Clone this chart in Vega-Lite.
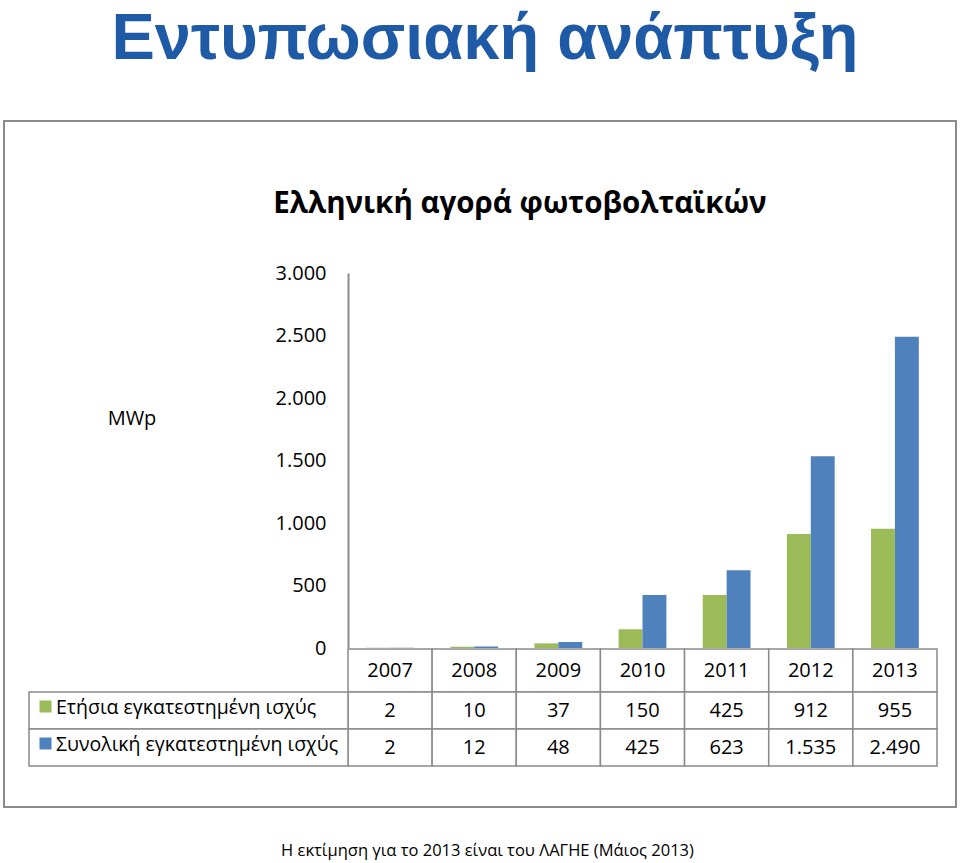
{
  "$schema": "https://vega.github.io/schema/vega-lite/v6.json",
  "width": 952,
  "height": 686,
  "autosize": {"type": "none"},
  "padding": {"left": 4, "top": 121, "right": 4, "bottom": 56},
  "background": "white",
  "view": {"stroke": "#8a8a8a", "strokeWidth": 2},
  "config": {
    "font": "Open Sans",
    "locale": {"number": {"decimal": ",", "thousands": ".", "grouping": [3], "currency": ["", " €"]}}
  },
  "title": {
    "text": "Εντυπωσιακή ανάπτυξη",
    "font": "Liberation Sans",
    "fontSize": 65,
    "fontWeight": "bold",
    "color": "#1F5AA6",
    "anchor": "middle",
    "dx": 5,
    "offset": 48
  },
  "datasets": {
    "bars": [
      {"year": "2007", "series": "Ετήσια εγκατεστημένη ισχύς", "value": 2},
      {"year": "2008", "series": "Ετήσια εγκατεστημένη ισχύς", "value": 10},
      {"year": "2009", "series": "Ετήσια εγκατεστημένη ισχύς", "value": 37},
      {"year": "2010", "series": "Ετήσια εγκατεστημένη ισχύς", "value": 150},
      {"year": "2011", "series": "Ετήσια εγκατεστημένη ισχύς", "value": 425},
      {"year": "2012", "series": "Ετήσια εγκατεστημένη ισχύς", "value": 912},
      {"year": "2013", "series": "Ετήσια εγκατεστημένη ισχύς", "value": 955},
      {"year": "2007", "series": "Συνολική εγκατεστημένη ισχύς", "value": 2},
      {"year": "2008", "series": "Συνολική εγκατεστημένη ισχύς", "value": 12},
      {"year": "2009", "series": "Συνολική εγκατεστημένη ισχύς", "value": 48},
      {"year": "2010", "series": "Συνολική εγκατεστημένη ισχύς", "value": 425},
      {"year": "2011", "series": "Συνολική εγκατεστημένη ισχύς", "value": 623},
      {"year": "2012", "series": "Συνολική εγκατεστημένη ισχύς", "value": 1535},
      {"year": "2013", "series": "Συνολική εγκατεστημένη ισχύς", "value": 2490}
    ],
    "years": [
      {"year": "2007", "row": "Έτος"},
      {"year": "2008", "row": "Έτος"},
      {"year": "2009", "row": "Έτος"},
      {"year": "2010", "row": "Έτος"},
      {"year": "2011", "row": "Έτος"},
      {"year": "2012", "row": "Έτος"},
      {"year": "2013", "row": "Έτος"}
    ],
    "legend": [
      {"series": "Ετήσια εγκατεστημένη ισχύς"},
      {"series": "Συνολική εγκατεστημένη ισχύς"}
    ]
  },
  "layer": [
    {
      "data": {"name": "bars"},
      "mark": {"type": "bar"},
      "encoding": {
        "x": {
          "field": "year", "type": "nominal",
          "scale": {"range": [344, 933], "paddingInner": 0.432, "paddingOuter": 0.216},
          "axis": {
            "orient": "bottom", "labels": false, "ticks": false, "domain": false, "grid": false,
            "title": "Η εκτίμηση για το 2013 είναι του ΛΑΓΗΕ (Μάιος 2013)",
            "titleFont": "Open Sans", "titleFontSize": 16.5, "titleFontWeight": "normal", "titleColor": "black",
            "titleX": 483, "titleY": 48, "titleAlign": "center", "titleBaseline": "alphabetic"
          }
        },
        "xOffset": {"field": "series", "type": "nominal", "scale": {"domain": ["Ετήσια εγκατεστημένη ισχύς", "Συνολική εγκατεστημένη ισχύς"]}},
        "y": {
          "field": "value", "type": "quantitative",
          "scale": {"domain": [0, 3000], "range": [527, 152], "nice": false, "zero": true},
          "axis": {
            "values": [0, 500, 1000, 1500, 2000, 2500, 3000], "format": ",d",
            "offset": -344, "grid": false, "ticks": false,
            "domainColor": "#8a8a8a", "domainWidth": 2,
            "labelFont": "Open Sans", "labelFontSize": 20, "labelPadding": 22, "labelColor": "black",
            "title": "MWp", "titleAngle": 0, "titleFont": "Open Sans", "titleFontSize": 20, "titleFontWeight": "normal", "titleColor": "black",
            "titleX": -216.5, "titleY": 297, "titleAlign": "center", "titleBaseline": "middle"
          }
        },
        "color": {
          "field": "series", "type": "nominal",
          "scale": {"domain": ["Ετήσια εγκατεστημένη ισχύς", "Συνολική εγκατεστημένη ισχύς"], "range": ["#9BBB59", "#4F81BD"]},
          "legend": null
        }
      }
    },
    {
      "data": {"name": "years"},
      "mark": {"type": "rect", "fill": "white", "stroke": "#8a8a8a", "strokeWidth": 1.5},
      "encoding": {
        "x": {
          "field": "year", "type": "nominal",
          "scale": {"range": [344, 933], "paddingInner": 0, "paddingOuter": 0},
          "axis": {
            "orient": "top", "labels": false, "ticks": false, "domain": false, "grid": false,
            "title": "Ελληνική αγορά φωτοβολταϊκών",
            "titleFont": "Open Sans", "titleFontSize": 29.5, "titleFontWeight": "bold", "titleColor": "black",
            "titleX": 515.5, "titleY": 91, "titleAlign": "center", "titleBaseline": "alphabetic"
          }
        },
        "y": {"field": "row", "type": "nominal", "scale": {"range": [528, 571], "paddingInner": 0, "paddingOuter": 0}, "axis": null}
      }
    },
    {
      "data": {"name": "years"},
      "mark": {"type": "text", "fontSize": 20, "color": "black", "font": "Open Sans"},
      "encoding": {
        "x": {"field": "year", "type": "nominal", "scale": {"range": [344, 933], "paddingInner": 0, "paddingOuter": 0}, "axis": null},
        "y": {"field": "row", "type": "nominal", "scale": {"range": [528, 571], "paddingInner": 0, "paddingOuter": 0}, "axis": null},
        "text": {"field": "year"}
      }
    },
    {
      "data": {"name": "bars"},
      "mark": {"type": "rect", "fill": "white", "stroke": "#8a8a8a", "strokeWidth": 1.5},
      "encoding": {
        "x": {"field": "year", "type": "nominal", "scale": {"range": [344, 933], "paddingInner": 0, "paddingOuter": 0}, "axis": null},
        "y": {"field": "series", "type": "nominal", "scale": {"domain": ["Ετήσια εγκατεστημένη ισχύς", "Συνολική εγκατεστημένη ισχύς"], "range": [571, 645], "paddingInner": 0, "paddingOuter": 0}, "axis": null}
      }
    },
    {
      "data": {"name": "bars"},
      "mark": {"type": "text", "fontSize": 20, "color": "black", "font": "Open Sans"},
      "encoding": {
        "x": {"field": "year", "type": "nominal", "scale": {"range": [344, 933], "paddingInner": 0, "paddingOuter": 0}, "axis": null},
        "y": {"field": "series", "type": "nominal", "scale": {"domain": ["Ετήσια εγκατεστημένη ισχύς", "Συνολική εγκατεστημένη ισχύς"], "range": [571, 645], "paddingInner": 0, "paddingOuter": 0}, "axis": null},
        "text": {"field": "value", "type": "quantitative", "format": ","}
      }
    },
    {
      "data": {"name": "legend"},
      "mark": {"type": "rect", "fill": "white", "stroke": "#8a8a8a", "strokeWidth": 1.5},
      "encoding": {
        "x": {"datum": 0, "type": "quantitative", "scale": {"domain": [0, 1], "range": [25, 344]}, "axis": null},
        "x2": {"datum": 1},
        "y": {"field": "series", "type": "nominal", "scale": {"domain": ["Ετήσια εγκατεστημένη ισχύς", "Συνολική εγκατεστημένη ισχύς"], "range": [571, 645], "paddingInner": 0, "paddingOuter": 0}, "axis": null}
      }
    },
    {
      "data": {"name": "legend"},
      "mark": {"type": "square", "size": 144, "opacity": 1, "xOffset": 16.5, "yOffset": -4},
      "encoding": {
        "x": {"datum": 0, "type": "quantitative", "scale": {"domain": [0, 1], "range": [25, 344]}, "axis": null},
        "y": {"field": "series", "type": "nominal", "scale": {"domain": ["Ετήσια εγκατεστημένη ισχύς", "Συνολική εγκατεστημένη ισχύς"], "range": [571, 645], "paddingInner": 0, "paddingOuter": 0}, "axis": null},
        "color": {"field": "series", "type": "nominal", "scale": {"domain": ["Ετήσια εγκατεστημένη ισχύς", "Συνολική εγκατεστημένη ισχύς"], "range": ["#9BBB59", "#4F81BD"]}, "legend": null}
      }
    },
    {
      "data": {"name": "legend"},
      "mark": {"type": "text", "fontSize": 19.5, "color": "black", "font": "Open Sans", "align": "left", "dx": 27, "dy": -3},
      "encoding": {
        "x": {"datum": 0, "type": "quantitative", "scale": {"domain": [0, 1], "range": [25, 344]}, "axis": null},
        "y": {"field": "series", "type": "nominal", "scale": {"domain": ["Ετήσια εγκατεστημένη ισχύς", "Συνολική εγκατεστημένη ισχύς"], "range": [571, 645], "paddingInner": 0, "paddingOuter": 0}, "axis": null},
        "text": {"field": "series"}
      }
    }
  ],
  "resolve": {
    "scale": {"x": "independent", "y": "independent"},
    "axis": {"x": "independent", "y": "independent"}
  }
}
